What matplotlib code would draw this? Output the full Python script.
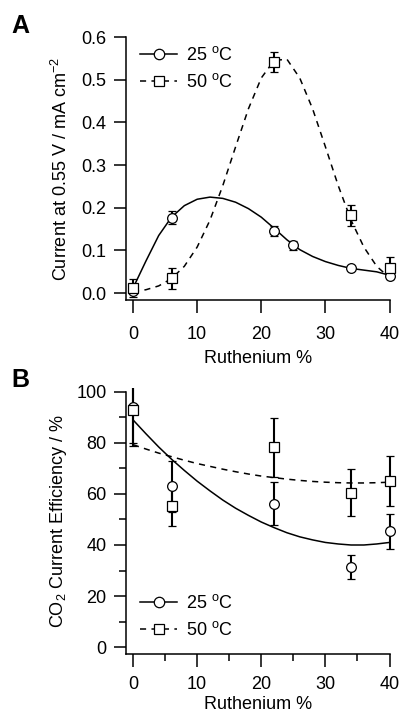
import matplotlib
matplotlib.use("Agg")
import matplotlib.pyplot as plt
from matplotlib.lines import Line2D
from matplotlib.ticker import MultipleLocator
from matplotlib.transforms import Bbox, TransformedBbox

plt.rcParams['font.family'] = ['Liberation Sans', 'DejaVu Sans']
plt.rcParams['mathtext.fontset'] = 'custom'
plt.rcParams['mathtext.rm'] = 'Liberation Sans'
plt.rcParams['mathtext.it'] = 'Liberation Sans:italic'

# ---------------- Panel A data ----------------
a_x25 = [0, 6, 22, 25, 34, 40]
a_y25 = [0.006, 0.177, 0.146, 0.112, 0.058, 0.041]
a_e25 = [0.0, 0.016, 0.012, 0.011, 0.0, 0.005]

a_x50 = [0, 6, 22, 34, 40]
a_y50 = [0.012, 0.035, 0.541, 0.182, 0.059]
a_e50 = [0.021, 0.025, 0.024, 0.025, 0.026]

fit_x = [0, 2, 4, 6, 8, 10, 12, 14, 16, 18, 20, 22, 24, 26, 28, 30, 32, 34, 36, 38, 40]
a_fit25 = [0.012, 0.075, 0.135, 0.178, 0.205, 0.220, 0.225, 0.222, 0.213, 0.198, 0.178,
           0.152, 0.125, 0.102, 0.086, 0.074, 0.065, 0.058, 0.054, 0.050, 0.042]
a_fit50 = [0.004, 0.008, 0.017, 0.034, 0.063, 0.108, 0.171, 0.252, 0.343, 0.432, 0.504,
           0.545, 0.548, 0.504, 0.432, 0.343, 0.252, 0.171, 0.108, 0.063, 0.036]

# ---------------- Panel B data ----------------
b_x25 = [0, 6, 22, 34, 40]
b_y25 = [94.1, 63.0, 56.2, 31.4, 45.4]
b_e25 = [15.4, 10.0, 8.5, 4.6, 6.8]

b_x50 = [0, 6, 22, 34, 40]
b_y50 = [92.8, 55.3, 78.2, 60.5, 65.0]
b_e50 = [13.0, 8.0, 11.7, 9.2, 9.7]

b_fit25 = [89.0, 83.6, 78.4, 73.6, 69.2, 65.0, 61.2, 57.6, 54.4, 51.6, 49.0,
           46.8, 44.8, 43.2, 42.0, 41.0, 40.4, 40.0, 40.0, 40.4, 41.0]
b_fit50 = [79.3, 77.6, 76.0, 74.6, 73.2, 71.9, 70.8, 69.7, 68.7, 67.8, 67.0,
           66.4, 65.8, 65.3, 64.9, 64.6, 64.4, 64.3, 64.3, 64.4, 64.6]

x_ticks = [0, 10, 20, 30, 40]
legend_labels = ['25 $^{\\mathrm{o}}$C', '50 $^{\\mathrm{o}}$C']

W, H = 401, 715
fig = plt.figure(figsize=(W / 100, H / 100), dpi=100)

def axes_px(left, top, right, bottom):
    return fig.add_axes([left / W, 1 - bottom / H, (right - left) / W, (bottom - top) / H])

FS = 13
DASH = (0, (4, 3.5))
ms = 7

def style(ax, minor, xpad):
    for s in ['top', 'right']:
        ax.spines[s].set_visible(False)
    for s in ['left', 'bottom']:
        ax.spines[s].set_linewidth(1.1)
    ax.tick_params(which='major', direction='out', length=9, width=1.1, labelsize=FS)
    ax.tick_params(axis='x', which='major', pad=xpad)
    ax.tick_params(axis='y', which='major', pad=5)
    ax.tick_params(which='minor', direction='out', length=5, width=1.1)
    ax.set_xticks(x_ticks)
    if minor:
        ax.xaxis.set_minor_locator(MultipleLocator(5))

def data(ax, x, y, e, marker, clip_lims):
    cont = ax.errorbar(x, y, yerr=e, fmt=marker, ms=ms, mfc='white', mec='black', mew=0.9,
                       ecolor='black', elinewidth=1.5, capsize=3.2, capthick=1.5, zorder=3)
    box = TransformedBbox(Bbox(clip_lims), ax.transData)
    arts = [cont.lines[0]] + list(cont.lines[1]) + list(cont.lines[2])
    for a in arts:
        a.set_clip_box(box)

def legend(ax, y_anchor):
    h1 = Line2D([], [], color='black', lw=1.1, marker='o', ms=7.5, mfc='white', mec='black', mew=0.9)
    h2 = Line2D([], [], color='black', lw=1.1, ls=DASH, marker='s', ms=7, mfc='white', mec='black', mew=0.9)
    ax.legend([h1, h2], legend_labels, loc='upper left', bbox_to_anchor=(0.055, y_anchor),
              frameon=False, fontsize=FS, handlelength=2.0, handletextpad=0.5,
              labelspacing=0.52, borderpad=0, borderaxespad=0)

# ---------------- Panel A ----------------
axA = axes_px(126, 37, 389.5, 300)
axA.plot(fit_x, a_fit25, color='black', lw=1.1, zorder=2)
axA.plot(fit_x, a_fit50, color='black', lw=1.1, ls=DASH, zorder=2)
clipA = [[-1.1, -0.016], [41.5, 0.62]]
data(axA, a_x25, a_y25, a_e25, 'o', clipA)
data(axA, a_x50, a_y50, a_e50, 's', clipA)
axA.set_xlim(-1.1, 40)
axA.set_ylim(-0.016, 0.6)
axA.set_yticks([0.0, 0.1, 0.2, 0.3, 0.4, 0.5, 0.6])
axA.set_yticklabels(['0.0', '0.1', '0.2', '0.3', '0.4', '0.5', '0.6'])
style(axA, minor=False, xpad=10)
axA.set_xlabel('Ruthenium %', fontsize=FS, labelpad=5)
axA.set_ylabel('Current at 0.55 V / mA cm$^{\\mathrm{-2}}$', fontsize=FS)
axA.yaxis.set_label_coords(-0.21, 0.5)
legend(axA, 0.966)

# ---------------- Panel B ----------------
axB = axes_px(126, 388, 389.5, 654)
axB.plot(fit_x, b_fit25, color='black', lw=1.1, zorder=2)
axB.plot(fit_x, b_fit50, color='black', lw=1.1, ls=DASH, zorder=2)
clipB = [[-1.1, -2.7], [41.5, 101.5]]
data(axB, b_x25, b_y25, b_e25, 'o', clipB)
data(axB, b_x50, b_y50, b_e50, 's', clipB)
axB.set_xlim(-1.1, 40)
axB.set_ylim(-2.7, 101.5)
axB.set_yticks([0, 20, 40, 60, 80, 100])
axB.yaxis.set_minor_locator(MultipleLocator(10))
style(axB, minor=True, xpad=7)
axB.spines['left'].set_bounds(-2.7, 100)
axB.set_xlabel('Ruthenium %', fontsize=FS, labelpad=2)
axB.set_ylabel('CO$_{\\mathrm{2}}$ Current Efficiency / %', fontsize=FS)
axB.yaxis.set_label_coords(-0.215, 0.5)
legend(axB, 0.226)

fig.text(11 / W, 1 - 33 / H, 'A', fontsize=18, fontweight='bold', va='baseline')
fig.text(11 / W, 1 - 387 / H, 'B', fontsize=18, fontweight='bold', va='baseline')

fig.savefig('out.png', dpi=100)
